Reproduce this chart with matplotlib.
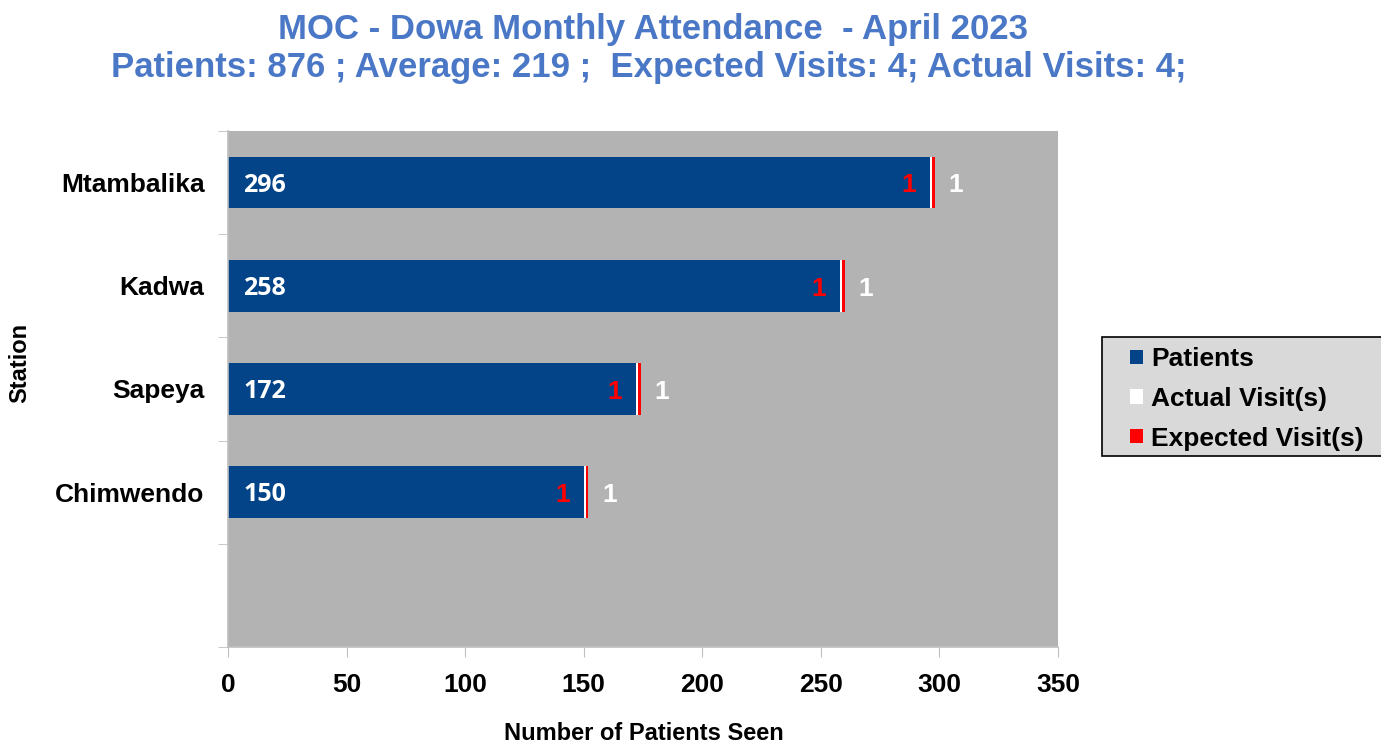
import matplotlib
matplotlib.use("Agg")
import matplotlib.pyplot as plt
from matplotlib.patches import Patch, Rectangle

stations = ["Mtambalika", "Kadwa", "Sapeya", "Chimwendo", ""]
patients = [296, 258, 172, 150, None]
actual_visits = [1, 1, 1, 1, None]
expected_visits = [1, 1, 1, 1, None]
xticks = [0, 50, 100, 150, 200, 250, 300, 350]

title1 = "MOC - Dowa Monthly Attendance  - April 2023"
title2 = "Patients: 876 ; Average: 219 ;  Expected Visits: 4; Actual Visits: 4;"

BLUE = "#024487"
RED = "#FF0000"
TITLE_C = "#4A78C6"

plt.rcParams['font.family'] = ['Liberation Sans', 'DejaVu Sans']

fig = plt.figure(figsize=(13.81, 7.44), dpi=100)
ax = fig.add_axes([228/1381, 97/744, 830/1381, 516/744])
ax.set_facecolor("#B3B3B3")

n = len(stations)
ypos = list(range(n))
for i in range(n):
    p = patients[i]
    if p is None:
        continue
    a = actual_visits[i]
    e = expected_visits[i]
    ax.barh(i, p, height=0.5, color=BLUE, edgecolor="none")
    ax.barh(i, a, left=p, height=0.5, color="white", edgecolor="none")
    ax.barh(i, e, left=p + a, height=0.5, color=RED, edgecolor="none")
    ax.annotate(str(p), xy=(0, i), xytext=(11, -2), textcoords="offset points",
                ha="left", va="center", color="white", fontsize=18,
                fontweight="bold", family=["Open Sans", "DejaVu Sans"])
    ax.annotate(str(e), xy=(p, i), xytext=(-10, -2), textcoords="offset points",
                ha="right", va="center", color=RED, fontsize=19, fontweight="bold")
    ax.annotate(str(a), xy=(p + a + e, i), xytext=(10, -2), textcoords="offset points",
                ha="left", va="center", color="white", fontsize=19, fontweight="bold")

ax.set_xlim(0, 350)
ax.set_ylim(n - 0.5, -0.5)
ax.set_xticks(xticks)
ax.set_xticklabels([str(t) for t in xticks], fontsize=19, fontweight="bold")
ax.set_yticks(ypos)
ax.set_yticklabels(stations, fontsize=19, fontweight="bold")
ax.set_yticks([k - 0.5 for k in range(n + 1)], minor=True)
ax.tick_params(axis="y", which="major", length=0, pad=17)
ax.tick_params(axis="y", which="minor", length=7, color="#BFBFBF", direction="out")
ax.tick_params(axis="x", which="major", length=7, color="#BFBFBF", direction="out", pad=12)
for s in ["top", "right"]:
    ax.spines[s].set_visible(False)
for s in ["left", "bottom"]:
    ax.spines[s].set_color("#BFBFBF")
    ax.spines[s].set_linewidth(1.2)

fig.text(644/1381, 1 - 733/744, "Number of Patients Seen", ha="center", va="center",
         fontsize=17, fontweight="bold")
fig.text(20/1381, 1 - 363/744, "Station", rotation=90, ha="center", va="center",
         fontsize=17, fontweight="bold")

fig.text(653/1381, 1 - 30/744, title1, ha="center", va="center", fontsize=25,
         fontweight="bold", color=TITLE_C)
fig.text(649/1381, 1 - 68/744, title2, ha="center", va="center", fontsize=25,
         fontweight="bold", color=TITLE_C)

# legend frame (extends past the right edge as in the reference)
frame = Rectangle((1102/1381, 1 - 456/744), 300/1381, 119/744,
                  transform=fig.transFigure, facecolor="#D9D9D9",
                  edgecolor="black", linewidth=1.2, zorder=1)
fig.patches.append(frame)

handles = [Patch(facecolor=BLUE, label="Patients"),
           Patch(facecolor="white", label="Actual Visit(s)"),
           Patch(facecolor=RED, label="Expected Visit(s)")]
leg = fig.legend(handles=handles, loc="upper left", bbox_to_anchor=(1130/1381, 1 - 347/744),
                 prop={"weight": "bold", "size": 19}, frameon=False,
                 handlelength=0.5, handleheight=0.45, handletextpad=0.3,
                 borderpad=0, labelspacing=0.6, borderaxespad=0)
leg.set_zorder(2)

fig.savefig("out.png", dpi=100)
